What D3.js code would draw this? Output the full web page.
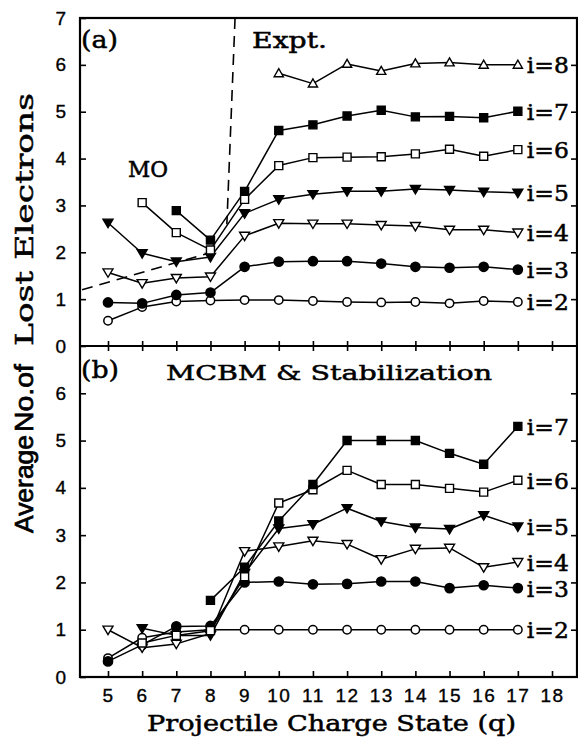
<!DOCTYPE html>
<html>
<head>
<meta charset="utf-8">
<script src="https://cdn.jsdelivr.net/npm/d3@7/dist/d3.min.js"></script>
<style>
  html, body { margin: 0; padding: 0; background: #fff; }
  svg { display: block; }
</style>
</head>
<body>
<svg id="chart" width="578" height="746"></svg>
<script>
// Projectile charge states (x categories) and axis ticks
const chargeStates = [5, 6, 7, 8, 9, 10, 11, 12, 13, 14, 15, 16, 17];
const xTickValues = [5, 6, 7, 8, 9, 10, 11, 12, 13, 14, 15, 16, 17, 18];
const yTickValuesA = [0, 1, 2, 3, 4, 5, 6, 7];
const yTickValuesB = [0, 1, 2, 3, 4, 5, 6];
const sideTickValues = [1, 2, 3, 4, 5, 6];

// (a) Experiment: average number of lost electrons for i = 2..8
const exptI2 = [0.54, 0.83, 0.95, 0.97, 0.98, 0.98, 0.96, 0.94, 0.93, 0.94, 0.91, 0.96, 0.94];
const exptI3 = [0.93, 0.91, 1.09, 1.14, 1.69, 1.80, 1.81, 1.81, 1.76, 1.69, 1.67, 1.69, 1.63];
const exptI4 = [1.57, 1.34, 1.45, 1.48, 2.35, 2.62, 2.61, 2.61, 2.58, 2.56, 2.48, 2.48, 2.42];
const exptI5 = [2.63, 1.98, 1.80, 1.90, 2.83, 3.13, 3.24, 3.30, 3.30, 3.35, 3.33, 3.29, 3.27];
const exptI6 = [null, 3.06, 2.42, 2.05, 3.13, 3.85, 4.02, 4.03, 4.04, 4.10, 4.20, 4.05, 4.19];
const exptI7 = [null, null, 2.89, 2.26, 3.30, 4.60, 4.72, 4.91, 5.03, 4.89, 4.90, 4.87, 5.01];
const exptI8 = [null, null, null, null, null, 5.82, 5.60, 6.02, 5.87, 6.03, 6.05, 6.00, 6.00];

// (a) dashed guide lines: MO region boundary and Expt. boundary (q, value)
const moBoundaryQ = [4.24, 7.9];
const moBoundaryV = [1.20, 1.97];
const exptBoundaryQ = [8.72, 8.48];
const exptBoundaryV = [7.0, 2.6];

// (b) MCBM & Stabilization calculation for i = 2..7
const mcbmI2 = [0.40, 0.83, 0.95, 1.00, 1.00, 1.00, 1.00, 1.00, 1.00, 1.00, 1.00, 1.00, 1.00];
const mcbmI3 = [0.33, 0.68, 1.07, 1.08, 2.00, 2.02, 1.96, 1.97, 2.02, 2.02, 1.88, 1.94, 1.88];
const mcbmI4 = [1.00, 0.62, 0.70, 0.92, 2.66, 2.76, 2.88, 2.81, 2.49, 2.71, 2.73, 2.32, 2.43];
const mcbmI5 = [null, 1.03, 0.88, 0.88, 2.20, 3.14, 3.23, 3.57, 3.29, 3.16, 3.13, 3.42, 3.18];
const mcbmI6 = [null, 0.72, 0.88, 0.98, 2.12, 3.68, 3.96, 4.37, 4.07, 4.07, 3.99, 3.91, 4.16];
const mcbmI7 = [null, null, null, 1.62, 2.32, 3.30, 4.07, 5.00, 5.00, 5.00, 4.73, 4.50, 5.30];

const seriesLabels = ["i=2", "i=3", "i=4", "i=5", "i=6", "i=7", "i=8"];

// ---- layout ----
const frameLeft = 80, frameRight = 577;
const topA = 18, midY = 346, bottomB = 677;

const svg = d3.select("#chart");
svg.append("rect").attr("width", 578).attr("height", 746).attr("fill", "#fff");

const x = d3.scaleLinear().domain([5, 18]).range([108, 552]);
const yA = d3.scaleLinear().domain([0, 7]).range([midY, topA]);
const yB = d3.scaleLinear().domain([0, 7]).range([bottomB, midY]);

const serif = "'DejaVu Serif', 'Liberation Serif', serif";
const sans = "'Liberation Sans', Arial, Helvetica, sans-serif";

// marker styles per series index (i=2..8)
const markerStyles = [
  { shape: "circle", filled: false },
  { shape: "circle", filled: true },
  { shape: "triDown", filled: false },
  { shape: "triDown", filled: true },
  { shape: "square", filled: false },
  { shape: "square", filled: true },
  { shape: "triUp", filled: false }
];

function markerPath(shape) {
  switch (shape) {
    case "square": return "M-4,-4H4V4H-4Z";
    case "triDown": return "M-5,-3.6H5L0,4.8Z";
    case "triUp": return "M-4.6,3.4H4.6L0,-4.6Z";
  }
  return null;
}

function buildSeries(valueLists) {
  return valueLists.map((vals, k) => ({
    label: seriesLabels[k],
    style: markerStyles[k],
    points: chargeStates.map((q, j) => ({ q, v: vals[j] }))
  }));
}

const seriesA = buildSeries([exptI2, exptI3, exptI4, exptI5, exptI6, exptI7, exptI8]);
const seriesB = buildSeries([mcbmI2, mcbmI3, mcbmI4, mcbmI5, mcbmI6, mcbmI7]);

// slightly heavier type, like the printed figure
function heavy(t, w) {
  return t.attr("stroke", "#000").attr("stroke-width", w).attr("paint-order", "stroke");
}

function drawPanel(series, y) {
  const g = svg.append("g");
  const line = d3.line()
    .defined(d => d.v != null)
    .x(d => x(d.q))
    .y(d => y(d.v));

  // lines first, then markers, in series order
  series.forEach(s => {
    g.append("path")
      .datum(s.points)
      .attr("d", line)
      .attr("fill", "none")
      .attr("stroke", "#000")
      .attr("stroke-width", 1.5)
      .attr("stroke-linejoin", "round");
  });
  series.forEach(s => {
    const pts = s.points.filter(d => d.v != null);
    const fill = s.style.filled ? "#000" : "#fff";
    if (s.style.shape === "circle") {
      g.selectAll(null).data(pts).enter().append("circle")
        .attr("cx", d => x(d.q)).attr("cy", d => y(d.v))
        .attr("r", s.style.filled ? 4.6 : 4.2)
        .attr("fill", fill).attr("stroke", "#000").attr("stroke-width", 1.5);
    } else {
      g.selectAll(null).data(pts).enter().append("path")
        .attr("transform", d => `translate(${x(d.q)},${y(d.v)})`)
        .attr("d", markerPath(s.style.shape))
        .attr("fill", fill).attr("stroke", "#000").attr("stroke-width", 1.4)
        .attr("stroke-linejoin", "miter");
    }
    const last = pts[pts.length - 1];
    const lbl = g.append("text")
      .attr("x", x(last.q) + 9)
      .attr("y", y(last.v) + 1)
      .attr("dominant-baseline", "central")
      .attr("font-family", serif)
      .attr("font-size", 22)
      .attr("textLength", 42)
      .attr("lengthAdjust", "spacingAndGlyphs")
      .text(s.label);
    heavy(lbl, 0.5);
  });
}

drawPanel(seriesA, yA);
drawPanel(seriesB, yB);

// dashed boundaries in panel (a)
const dashLine = d3.line().x(d => x(d[0])).y(d => yA(d[1]));
[[moBoundaryQ, moBoundaryV], [exptBoundaryQ, exptBoundaryV]].forEach(([qs, vs]) => {
  svg.append("path")
    .datum(qs.map((q, k) => [q, vs[k]]))
    .attr("d", dashLine)
    .attr("fill", "none")
    .attr("stroke", "#000")
    .attr("stroke-width", 1.6)
    .attr("stroke-dasharray", "11,7");
});

// ---- axes ----
function styleAxis(g) {
  g.select(".domain").remove();
  g.selectAll(".tick line").attr("stroke", "#000").attr("stroke-width", 1.6);
  g.selectAll(".tick text").attr("fill", "#000").attr("font-family", sans).attr("font-size", 19)
    .attr("stroke", "#000").attr("stroke-width", 0.35);
}

svg.append("g").attr("transform", `translate(${frameLeft},0)`)
  .call(d3.axisLeft(yA).tickValues(yTickValuesA).tickSize(-6).tickPadding(14).tickFormat(d3.format("d")))
  .call(styleAxis);
svg.append("g").attr("transform", `translate(${frameLeft},0)`)
  .call(d3.axisLeft(yB).tickValues(yTickValuesB).tickSize(-6).tickPadding(14).tickFormat(d3.format("d")))
  .call(styleAxis);
svg.append("g").attr("transform", `translate(${frameRight},0)`)
  .call(d3.axisRight(yA).tickValues(sideTickValues).tickSize(-6).tickFormat(""))
  .call(styleAxis);
svg.append("g").attr("transform", `translate(${frameRight},0)`)
  .call(d3.axisRight(yB).tickValues(sideTickValues).tickSize(-6).tickFormat(""))
  .call(styleAxis);

// bottom axis with labels
const bottomAxis = svg.append("g").attr("transform", `translate(0,${bottomB})`)
  .call(d3.axisBottom(x).tickValues(xTickValues).tickSize(-6).tickPadding(12).tickFormat(d3.format("d")))
  .call(styleAxis);
bottomAxis.selectAll(".tick text").attr("letter-spacing", 1.5);

// shared axis between panels: ticks cross the line
svg.append("g").attr("transform", `translate(0,${midY})`)
  .call(d3.axisBottom(x).tickValues(xTickValues).tickSizeInner(5).tickSizeOuter(0).tickFormat(""))
  .call(styleAxis);
svg.append("g").attr("transform", `translate(0,${midY})`)
  .call(d3.axisBottom(x).tickValues(xTickValues).tickSizeInner(-5).tickSizeOuter(0).tickFormat(""))
  .call(styleAxis);

// frames
const frame = svg.append("g").attr("fill", "none").attr("stroke", "#000").attr("stroke-width", 2.2);
frame.append("rect").attr("x", frameLeft).attr("y", topA)
  .attr("width", frameRight - frameLeft).attr("height", bottomB - topA);
frame.append("line").attr("x1", frameLeft).attr("x2", frameRight).attr("y1", midY).attr("y2", midY);

// ---- text ----
function addText(txt, xPos, yPos, size, family, opts = {}) {
  const t = svg.append("text")
    .attr("x", xPos).attr("y", yPos)
    .attr("font-family", family).attr("font-size", size)
    .attr("fill", "#000")
    .text(txt);
  if (opts.len) t.attr("textLength", opts.len).attr("lengthAdjust", "spacingAndGlyphs");
  if (opts.weight) t.attr("font-weight", opts.weight);
  if (opts.transform) t.attr("transform", opts.transform);
  heavy(t, opts.stroke != null ? opts.stroke : 0.5);
  return t;
}

addText("(a)", 81, 48, 25, serif, { len: 37 });
addText("Expt.", 252, 48, 22, serif, { len: 75 });
addText("MO", 128, 177, 22, serif, { len: 40 });
addText("(b)", 81, 378, 25, serif, { len: 38 });
addText("MCBM & Stabilization", 166, 380, 21, serif, { len: 326 });

addText("Projectile Charge State (q)", 147, 731, 22, serif, { len: 369 });

// vertical axis title, read bottom to top
addText("Average", 0, 0, 25, sans, { len: 98, stroke: 0.7, transform: "translate(33,533) rotate(-90)" });
addText("No.of", 0, 0, 25, sans, { len: 68, stroke: 0.7, transform: "translate(33,432) rotate(-90)" });
addText("Lost Electrons", 0, 0, 25, serif, { len: 253, transform: "translate(33,346) rotate(-90)" });
</script>
</body>
</html>
